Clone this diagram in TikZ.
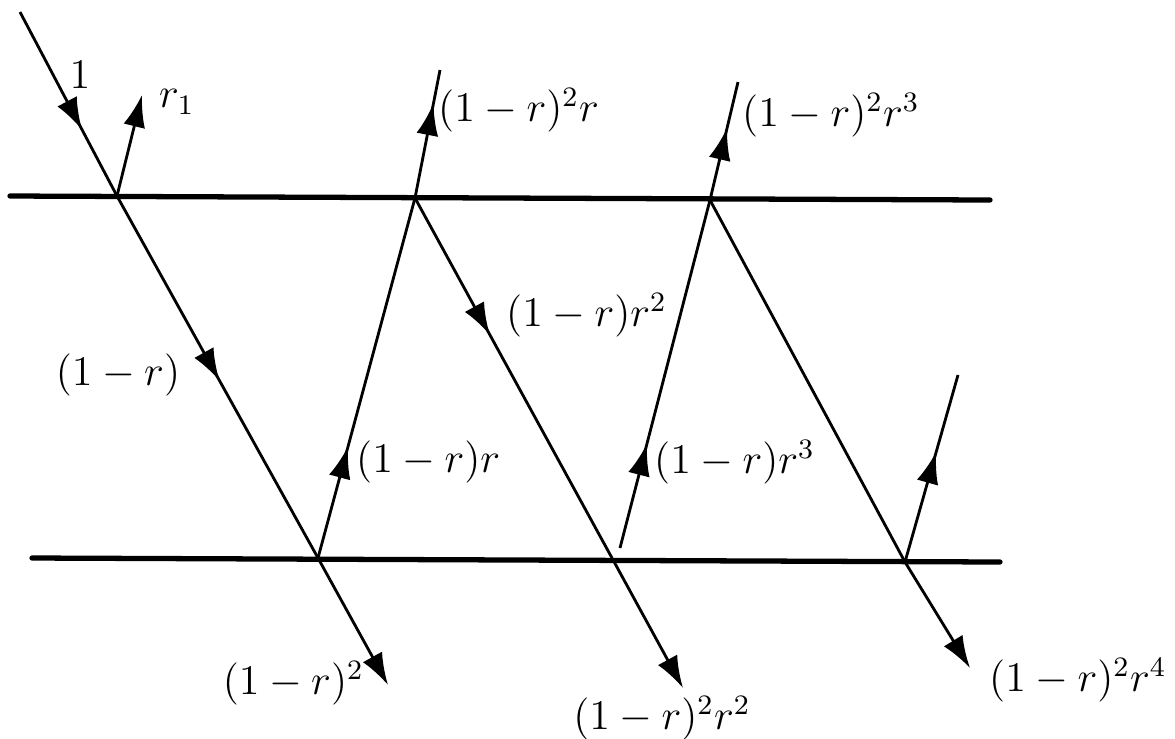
\documentclass[tikz,border=0pt]{standalone}
\usepackage{amsmath, amssymb}
\usetikzlibrary{arrows.meta, decorations.markings}
\tikzset{
  ray/.style={thick},
  face/.style={line width=1.5pt, line cap=round},
  midarrow/.style={postaction={decorate}, decoration={markings,
    mark=at position #1 with {\arrow{Latex[length=3.2mm,width=2.2mm]}}}},
  endarrow/.style={-{Latex[length=3.2mm,width=2.2mm]}},
  lbl/.style={font=\large, inner sep=1pt}
}
\begin{document}
\begin{tikzpicture}[x=0.01cm, y=-0.01cm]
  \useasboundingbox (0,0) rectangle (1175,738);
  % the two faces
  \coordinate (tl) at (10,196);   \coordinate (tr) at (990,200);
  \coordinate (bl) at (32,558);   \coordinate (br) at (1000,562);
  \draw[face] (tl) -- (tr);
  \draw[face] (bl) -- (br);
  % points where the ray meets a face
  \coordinate (a1) at (117,196);
  \coordinate (a2) at (415,198);
  \coordinate (a3) at (710,200);
  \coordinate (b1) at (318,558);
  \coordinate (b2) at (612,558);
  \coordinate (b3) at (905,562);
  % free ends
  \coordinate (src) at (20,12);
  \coordinate (r1end) at (142,95);
  \coordinate (u2) at (440,70);
  \coordinate (u3) at (738,82);
  \coordinate (u4) at (958,375);
  \coordinate (b2s) at (620,548);
  \coordinate (d1) at (388,685);
  \coordinate (d2) at (683,688);
  \coordinate (d3) at (970,668);
  % rays
  \draw[ray, midarrow=0.64] (src) -- (a1);
  \draw[ray, endarrow] (a1) -- (r1end);
  \draw[ray, midarrow=0.51] (a1) -- (b1);
  \draw[ray, midarrow=0.31] (b1) -- (a2);
  \draw[ray, midarrow=0.74] (a2) -- (u2);
  \draw[ray, midarrow=0.38] (a2) -- (b2);
  \draw[ray, midarrow=0.30] (b2s) -- (a3);
  \draw[ray, midarrow=0.61] (a3) -- (u3);
  \draw[ray] (a3) -- (b3);
  \draw[ray, midarrow=0.59] (b3) -- (u4);
  \draw[ray, endarrow] (b1) -- (d1);
  \draw[ray, endarrow] (b2) -- (d2);
  \draw[ray, endarrow] (b3) -- (d3);
  % labels
  \node[lbl] (l1) at (80,75) {$1$};
  \node[lbl, anchor=west] (lr1) at (155,102) {$r_1$};
  \node[lbl] (lt1) at (118,375) {$(1-r)$};
  \node[lbl, anchor=west] (lup1) at (352,462) {$(1-r)r$};
  \node[lbl, anchor=west] (lout1) at (434,110) {$(1-r)^2 r$};
  \node[lbl, anchor=west] (ldn2) at (502,315) {$(1-r)r^2$};
  \node[lbl, anchor=west] (lup2) at (650,462) {$(1-r)r^3$};
  \node[lbl, anchor=west] (lout2) at (738,115) {$(1-r)^2 r^3$};
  \node[lbl, anchor=east] (lt2) at (368,683) {$(1-r)^2$};
  \node[lbl] (lt3) at (662,718) {$(1-r)^2 r^2$};
  \node[lbl, anchor=west] (lt4) at (985,680) {$(1-r)^2 r^4$};
\end{tikzpicture}
\end{document}
